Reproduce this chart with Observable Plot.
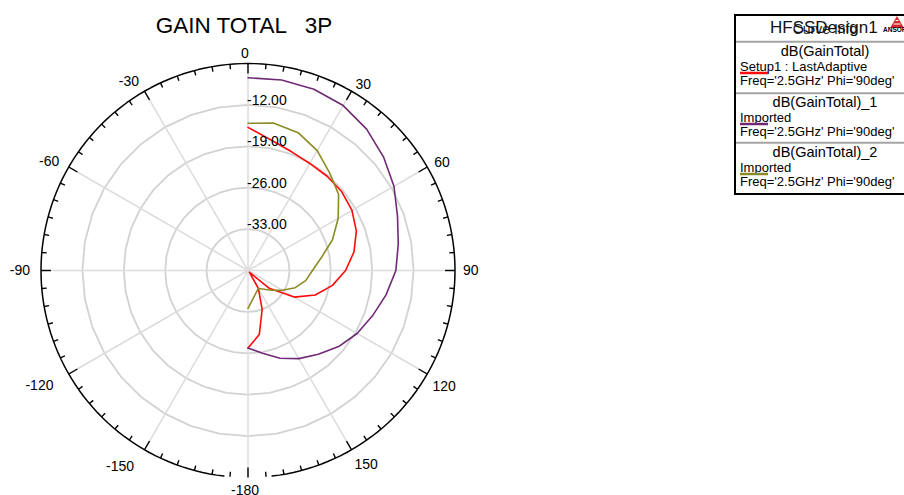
<!DOCTYPE html>
<html>
<head>
<meta charset="utf-8">
<script src="https://cdn.jsdelivr.net/npm/d3@7"></script>
<script src="https://cdn.jsdelivr.net/npm/@observablehq/plot@0.6"></script>
<style>
  body { margin: 0; background: #fff; }
  #wrap { position: relative; width: 904px; height: 495px; overflow: hidden; font-family: "Liberation Sans", Arial, sans-serif; }
  #wrap > svg { position: absolute; left: 0; top: 0; }
</style>
</head>
<body>
<div id="wrap"></div>
<script>
// Elevation cut, theta in degrees (0 = top, clockwise), gain in dB
const theta = [0, 10, 20, 30, 40, 50, 60, 70, 80, 90, 100, 110, 120, 130, 140, 150, 160, 170, 180];
const gainSetup1 = [-15.8, -17.6, -18.6, -19.1, -19.2, -19.3, -19.7, -20.5, -21.8, -23.5, -25.5, -27.9, -31.0, -35.3, -39.6, -36.5, -33.0, -29.0, -26.9];
const gainImported1 = [-7.4, -7.3, -7.4, -7.8, -8.8, -10.1, -11.5, -13.1, -14.2, -15.0, -16.3, -17.6, -18.7, -20.0, -21.5, -22.8, -24.2, -25.8, -26.9];
const thetaImported2 = [0, 10, 20, 30, 40, 50, 60, 70, 80, 90, 100, 110, 120, 130, 150, 180];
const gainImported2 = [-15.1, -14.7, -15.2, -16.6, -18.5, -20.0, -22.4, -24.8, -27.4, -29.1, -30.1, -31.5, -33.3, -34.8, -36.5, -33.6];

// Axis values
const ringLevels = [-33, -26, -19, -12];
const angleLabels = [0, 30, 60, 90, 120, 150, -180, -150, -120, -90, -60, -30];
const spokeAngles = [0, 30, 60, 90, 120, 150, 180, 210, 240, 270, 300, 330];

// Legend text
const curveNames = ["dB(GainTotal)", "dB(GainTotal)_1", "dB(GainTotal)_2"];
const curveSources = ["Setup1 : LastAdaptive", "Imported", "Imported"];
const sweepLabel = "Freq='2.5GHz' Phi='90deg'";
const designName = "HFSSDesign1";
const chartTitle = "GAIN TOTAL   3P";

const palette = ["#ff0a0a", "#6e2a75", "#8b8b26"];

// Polar geometry
const CX = 247.5, CY = 270, R = 207;
const DB_MIN = -40, DB_MAX = -5;
const pxToDb = (px) => (px / R) * (DB_MAX - DB_MIN);
const rad = (t) => (t * Math.PI) / 180;

// Planar polar projection: longitude = angle, latitude = gain
const polar = () => d3.geoTransform({
  point(t, db) {
    const r = Math.max(0, (db - DB_MIN) / (DB_MAX - DB_MIN)) * R;
    this.stream.point(CX + r * Math.sin(rad(t)), CY - r * Math.cos(rad(t)));
  }
});

const ringPath = [];
for (const level of ringLevels) for (let t = 0; t <= 360; t += 10) ringPath.push({t, db: level});
const outerPath = [];
for (let t = -173.3; t <= 173.3 + 1e-9; t += 173.3 / 87) outerPath.push({t, db: DB_MAX});
const tickAngles = d3.range(-180, 180, 5);

// Angle label placement around the rim, by sector
const labelSectors = [
  {test: (t) => t === 0, anchor: "middle", r: 217, dx: -3, dy: 0},
  {test: (t) => t === -180, anchor: "middle", r: 220, dx: -3, dy: 0},
  {test: (t) => t > 0 && t <= 90, anchor: "start", r: 215, dx: 0, dy: 0},
  {test: (t) => t > 90 && t < 180, anchor: "start", r: 213, dx: 0, dy: 10},
  {test: (t) => t < 0 && t >= -90, anchor: "end", r: 218, dx: 0, dy: 0},
  {test: (t) => t < -90 && t > -180, anchor: "end", r: 220, dx: -4, dy: 5}
];

const series = [
  {angles: theta, gains: gainSetup1, color: palette[0]},
  {angles: theta, gains: gainImported1, color: palette[1]},
  {angles: thetaImported2, gains: gainImported2, color: palette[2]}
];

const labelMarks = labelSectors.map((s) =>
  Plot.text(angleLabels.filter(s.test), {
    x: (d) => d, y: () => DB_MIN + pxToDb(s.r),
    text: (d) => String(d), fontSize: 14, fill: "#000",
    textAnchor: s.anchor, dx: s.dx, dy: s.dy
  })
);

const chart = Plot.plot({
  width: 904,
  height: 495,
  margin: 0,
  projection: {type: polar},
  style: {fontFamily: "'Liberation Sans', Arial, sans-serif", background: "transparent"},
  marks: [
    Plot.line(ringPath, {x: "t", y: "db", z: "db", stroke: "#d2d2d2", strokeWidth: 1.8}),
    Plot.link(spokeAngles, {x1: (d) => d, y1: () => DB_MIN, x2: (d) => d, y2: () => DB_MAX, stroke: "#dcdcdc", strokeWidth: 1.5}),
    Plot.line(outerPath, {x: "t", y: "db", stroke: "#000", strokeWidth: 1.5}),
    Plot.link(tickAngles, {
      x1: (d) => d, y1: () => DB_MAX,
      x2: (d) => d, y2: (d) => DB_MAX - pxToDb(d % 30 === 0 ? 10 : 5),
      stroke: "#000", strokeWidth: 1.4
    }),
    ...labelMarks,
    ...series.map((s) =>
      Plot.line(s.angles, {x: (d) => d, y: (d, i) => s.gains[i], stroke: s.color, strokeWidth: 1.6})
    ),
    Plot.text(ringLevels, {
      x: () => 0, y: (d) => d, text: (d) => d.toFixed(2),
      textAnchor: "start", dx: -1, dy: -4.5, fontSize: 14, fill: "#000"
    })
  ]
});
document.getElementById("wrap").appendChild(chart);

// Title and curve-info box
const svg = d3.select("#wrap").append("svg").attr("width", 904).attr("height", 495)
  .style("font-family", "'Liberation Sans', Arial, sans-serif");

svg.append("text").attr("x", 244).attr("y", 33).attr("text-anchor", "middle")
  .style("white-space", "pre").attr("font-size", 22.5).text(chartTitle);

const box = svg.append("g");
box.append("rect").attr("x", 735).attr("y", 15).attr("width", 200).attr("height", 179)
  .attr("fill", "#fff").attr("stroke", "#000").attr("stroke-width", 2);
box.append("text").attr("x", 825).attr("y", 34).attr("text-anchor", "middle")
  .attr("font-size", 14).attr("fill", "#222").text("Curve Info");
box.append("text").attr("x", 770).attr("y", 32.7).attr("font-size", 17).attr("fill", "#111").text(designName);

// Vendor mark in the corner
box.append("path").attr("d", "M897,16 L904,28 L890,28 Z").attr("fill", "#d42a2a");
box.append("path").attr("d", "M893.5,24 L900.5,24 M895.5,20.5 L898.5,20.5").attr("stroke", "#fff").attr("stroke-width", 1);
box.append("text").attr("x", 883).attr("y", 32).attr("font-size", 6.5).attr("font-weight", "bold").text("ANSOFT");

const blockTops = [42, 93, 143];
[41.7, 93.3, 142.7].forEach((y) =>
  box.append("line").attr("x1", 736).attr("x2", 904).attr("y1", y).attr("y2", y)
    .attr("stroke", "#a4a4a4").attr("stroke-width", 2));

curveNames.forEach((name, i) => {
  const y0 = blockTops[i];
  box.append("text").attr("x", 825).attr("y", y0 + 14).attr("text-anchor", "middle")
    .attr("font-size", 14.5).text(name);
  box.append("text").attr("x", 740).attr("y", y0 + 28.5).attr("font-size", 13).text(curveSources[i]);
  box.append("line").attr("x1", 740).attr("x2", 768).attr("y1", y0 + 31).attr("y2", y0 + 31)
    .attr("stroke", palette[i]).attr("stroke-width", 2.5);
  box.append("text").attr("x", 740).attr("y", y0 + 42.5).attr("font-size", 13).text(sweepLabel);
});
</script>
</body>
</html>
